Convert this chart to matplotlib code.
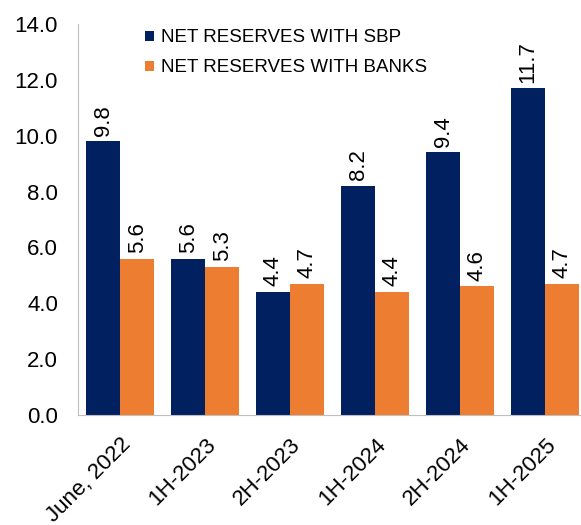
import numpy as np
import matplotlib.pyplot as plt

plt.rcParams['font.family'] = ['Liberation Sans', 'DejaVu Sans']

# data
periods = ['June, 2022', '1H-2023', '2H-2023', '1H-2024', '2H-2024', '1H-2025']
sbp = [9.8, 5.6, 4.4, 8.2, 9.4, 11.7]
banks = [5.6, 5.3, 4.7, 4.4, 4.6, 4.7]

navy = '#002060'
orange = '#ED7D31'

fig = plt.figure(figsize=(5.81, 5.25), dpi=100)
ax = fig.add_axes([0.1335, 0.21, 0.878, 0.744])

x = np.arange(len(periods))
w = 0.4
b1 = ax.bar(x - w / 2, sbp, w, color=navy, label='NET RESERVES WITH SBP')
b2 = ax.bar(x + w / 2, banks, w, color=orange, label='NET RESERVES WITH BANKS')

# value labels, rotated like the original
for bars in (b1, b2):
    for r in bars:
        ax.annotate(f'{r.get_height():.1f}', (r.get_x() + r.get_width() / 2, r.get_height()),
                    xytext=(0, 4), textcoords='offset points', rotation=90,
                    ha='center', va='bottom', fontsize=16)

ax.set_ylim(0, 14)
ax.set_yticks(np.arange(0, 15, 2))
ax.set_yticklabels([f'{v:.1f}' for v in np.arange(0, 15, 2)], fontsize=16)
ax.set_xlim(-0.5, len(periods) - 0.5)
ax.set_xticks(x)
ax.set_xticklabels(periods, rotation=45, ha='right', rotation_mode='anchor', fontsize=16)
ax.tick_params(axis='y', length=0, pad=14)
ax.tick_params(axis='x', length=0, pad=14)

for s in ['top', 'right']:
    ax.spines[s].set_visible(False)
for s in ['left', 'bottom']:
    ax.spines[s].set_color('#BFBFBF')

ax.legend(loc='upper left', bbox_to_anchor=(0.1, 1.03), frameon=False, fontsize=13.5,
          handlelength=0.45, handleheight=0.45, handletextpad=0.37, labelspacing=0.7)

fig.savefig('out.png', dpi=100)
